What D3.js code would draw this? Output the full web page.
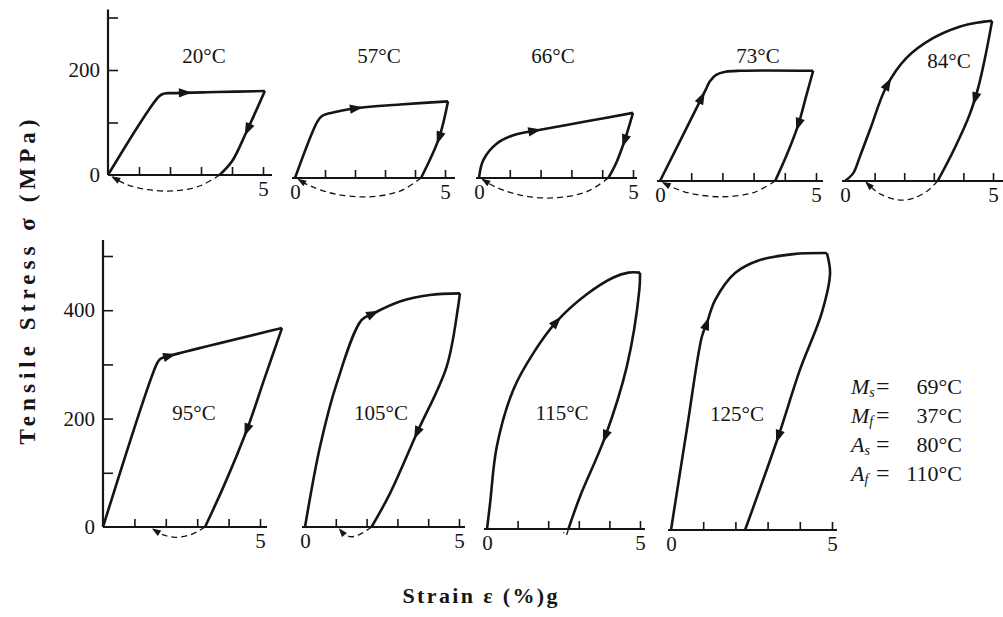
<!DOCTYPE html>
<html><head><meta charset="utf-8">
<script src="https://cdn.jsdelivr.net/npm/d3@7"></script>
<style>
body{margin:0;background:#fff}
svg{display:block;background:#fff}
svg text{font-family:"Liberation Serif","Times New Roman",serif}
</style>
</head><body>
<svg id="c" width="1003" height="617"></svg>
<script>
// ---------- DATA ----------
const tempsTop = ["20°C","57°C","66°C","73°C","84°C"];
const tempsBottom = ["95°C","105°C","115°C","125°C"];
const strainTicks = [0,1,2,3,4,5];
const strainTickLabels = [0,5];
const stressTicksTop = [0,100,200,300];
const stressTickLabelsTop = [0,200];
const stressTicksBottom = [0,100,200,300,400,500];
const stressTickLabelsBottom = [0,200,400];

// loading branches  [strain %, stress MPa]
const load20  = [[0,0],[1.65,150],[1.8,155],[2.1,156],[3.5,158],[5.06,160]];
const load57  = [[0,0],[0.75,108],[0.9,118],[1.2,124],[2.05,133],[3.5,140],[5.1,146]];
const load66  = [[0,0],[0.14,34],[0.59,66],[1.14,82],[1.81,90],[3.5,108],[5.0,124]];
const load73  = [[0,0],[1.45,172],[1.6,190],[1.8,202],[2.1,208],[2.6,210],[4.91,210]];
const load84  = [[0,0],[0.28,15],[0.5,46],[0.84,97],[1.4,180],[2.07,234],[2.97,272],[3.87,294],[4.5,302],[4.97,305]];
const load95  = [[0,0],[1.72,302],[1.82,310],[1.95,313],[5.7,367]];
const load105 = [[0,0],[0.49,149],[1.03,265],[1.84,382],[2.22,394],[3.08,416],[4.05,428],[5.03,431]];
const load115 = [[0,0],[0.1,47],[0.32,152],[0.86,257],[1.52,325],[2.28,383],[3.26,433],[4.13,464],[4.62,473],[5.0,473]];
const load125 = [[0,0],[0.49,185],[0.96,357],[1.11,381],[1.37,424],[1.99,474],[2.76,498],[3.8,509],[4.84,511]];

// unloading branches
const unload20  = [[5.06,160],[4.72,115],[4.45,80],[4.0,26],[3.6,0]];
const unload57  = [[5.1,146],[4.8,76],[4.2,0]];
const unload66  = [[5.0,124],[4.72,70],[4.45,28],[4.2,0]];
const unload73  = [[4.91,210],[4.7,165],[4.43,107],[4.05,48],[3.69,0]];
const unload84  = [[4.97,305],[4.75,240],[4.5,178],[4.2,125],[3.7,62],[3.13,0]];
const unload95  = [[5.7,367],[5.15,275],[4.58,179],[3.88,80],[3.25,0]];
const unload105 = [[5.03,431],[4.97,406],[4.6,296],[3.63,173],[2.76,62],[2.16,0]];
const unload115 = [[5.0,473],[4.98,442],[4.57,300],[3.86,170],[3.04,60],[2.66,0]];
const unload125 = [[4.84,511],[4.94,474],[4.68,400],[4.0,295],[3.33,172],[2.3,0]];

// shape recovery on heating (dashed, drawn below the strain axis)
const recover20  = [[3.6,0],[3.0,-20],[2.2,-30],[1.3,-28],[0.6,-18],[0.15,-4]];
const recover57  = [[4.2,0],[3.5,-25],[2.4,-36],[1.3,-30],[0.5,-15],[0.12,-3]];
const recover66  = [[4.2,0],[3.5,-26],[2.4,-38],[1.3,-32],[0.5,-16],[0.12,-3]];
const recover73  = [[3.69,0],[3.0,-22],[2.0,-30],[1.0,-24],[0.4,-12],[0.1,-3]];
const recover84  = [[3.13,0],[2.8,-18],[2.3,-33],[1.8,-36],[1.2,-25],[0.85,-10],[0.72,-3]];
const recover95  = [[3.25,0],[2.8,-14],[2.3,-19],[1.9,-14],[1.6,-4]];
const recover105 = [[2.16,0],[1.8,-13],[1.5,-18],[1.25,-12],[1.13,-4]];
const recover115 = [[2.66,0],[2.58,-12],[2.5,-6]];
const recover125 = [];

// strain at which the direction arrows sit
const arrowLoadTop = [2.5,2.05,1.81,1.34,1.45];
const arrowUnloadTop = [4.5,4.8,4.72,4.43,4.39];
const arrowLoadBottom = [2.13,2.22,2.28,1.11];
const arrowUnloadBottom = [4.58,3.63,3.86,3.33];

const legendSymbols = ["M","M","A","A"];
const legendSubs = ["s","f","s","f"];
const legendValues = ["69°C","37°C","80°C","110°C"];

// ---------- LAYOUT ----------
const INK = "#151515";
const topLayout = {
  x0:[108,295,479,660,845], x5:[263,445,633,816,993], base:[175,178,178,181,181],
  ymax:300, h:157.5, ext:[9,10,4,7,12],
  lab:[[204,63],[379,63],[553,63],[758,63],[949,68]]
};
const botLayout = {
  x0:[103,305,487,671], x5:[260,459,640,832], base:[527,527,529,530],
  ymax:500, h:271, ext:[7,6,5,5],
  lab:[[194,420],[381,420],[562,420],[737,421]]
};

const svg = d3.select("#c");

function addArrow(g, pathNode, targetX, size, atLen){
  const L = pathNode.getTotalLength();
  let best=0, bd=1e9;
  if(atLen!==undefined){ best=atLen; }
  else {
    for(let l=0;l<=L;l+=0.5){
      const p=pathNode.getPointAtLength(l);
      const d=Math.abs(p.x-targetX);
      if(d<bd){bd=d;best=l;}
    }
  }
  const a=pathNode.getPointAtLength(Math.max(0,best-2));
  const b=pathNode.getPointAtLength(Math.min(L,best+2));
  const p=pathNode.getPointAtLength(best);
  let dx=b.x-a.x, dy=b.y-a.y; const n=Math.hypot(dx,dy)||1; dx/=n; dy/=n;
  const len=size, w=size*0.36;
  const tip=[p.x+dx*len*0.5,p.y+dy*len*0.5];
  const bl=[p.x-dx*len*0.5-dy*w,p.y-dy*len*0.5+dx*w];
  const br=[p.x-dx*len*0.5+dy*w,p.y-dy*len*0.5-dx*w];
  g.append("path").attr("d",`M${tip}L${bl}L${br}Z`).attr("fill",INK);
}

function styleText(sel,size){
  sel.style("font-family",'"Liberation Serif","Times New Roman",serif').style("font-size",size+"px").attr("fill",INK);
}

function drawPanel(i, L, temps, loads, unloads, recovers, aLoad, aUnload, isTop){
  const x = d3.scaleLinear().domain([0,5]).range([L.x0[i],L.x5[i]]);
  const y = d3.scaleLinear().domain([0,L.ymax]).range([L.base[i],L.base[i]-L.h]);
  const g = svg.append("g");
  // strain axis
  g.append("line").attr("x1",x(0)-(i===0?0:3)).attr("x2",x(5)+L.ext[i])
    .attr("y1",y(0)).attr("y2",y(0)).attr("stroke",INK).attr("stroke-width",2.2);
  const showZero = i!==0;
  const ax = d3.axisBottom(x).tickValues(strainTicks).tickSizeInner(-8).tickSizeOuter(0).tickPadding(6)
    .tickFormat(d => strainTickLabels.includes(d) && (d!==0 || showZero) ? String(d) : "");
  const axg = g.append("g").attr("transform",`translate(0,${y(0)})`).call(ax);
  axg.attr("font-family",null).attr("font-size",null);
  axg.select(".domain").remove();
  axg.selectAll(".tick line").attr("stroke",INK).attr("stroke-width",1.6);
  axg.selectAll(".tick").filter(d=>d===0).select("line").remove();
  styleText(axg.selectAll(".tick text"),21);

  // stress axis only on first panel of each row
  if(i===0){
    const ticks = isTop?stressTicksTop:stressTicksBottom;
    const labs = isTop?stressTickLabelsTop:stressTickLabelsBottom;
    g.append("line").attr("x1",x(0)).attr("x2",x(0)).attr("y1",y(0)).attr("y2",y(L.ymax)-(isTop?8:16))
      .attr("stroke",INK).attr("stroke-width",2.2);
    const ay = d3.axisLeft(y).tickValues(ticks).tickSizeInner(-10).tickSizeOuter(0).tickPadding(8)
      .tickFormat(d => labs.includes(d)?String(d):"");
    const ayg = g.append("g").attr("transform",`translate(${x(0)},0)`).call(ay);
    ayg.attr("font-family",null).attr("font-size",null);
    ayg.select(".domain").remove();
    ayg.selectAll(".tick line").attr("stroke",INK).attr("stroke-width",1.6);
    ayg.selectAll(".tick").filter(d=>d===0).select("line").remove();
    styleText(ayg.selectAll(".tick text"),21);
  }

  const line = d3.line().x(d=>x(d[0])).y(d=>y(d[1])).curve(d3.curveCatmullRom.alpha(0.5));
  const pl = g.append("path").attr("d",line(loads[i])).attr("fill","none").attr("stroke",INK)
    .attr("stroke-width",2.6).attr("stroke-linejoin","round");
  const pu = g.append("path").attr("d",line(unloads[i])).attr("fill","none").attr("stroke",INK)
    .attr("stroke-width",2.6).attr("stroke-linejoin","round");
  addArrow(g, pl.node(), x(aLoad[i]), 13);
  addArrow(g, pu.node(), x(aUnload[i]), 13);
  if(recovers[i].length){
    const pr = g.append("path").attr("d",line(recovers[i])).attr("fill","none").attr("stroke",INK)
      .attr("stroke-width",1.3).attr("stroke-dasharray","6,4");
    if(recovers[i].length>3){
      const Lr = pr.node().getTotalLength();
      addArrow(g, pr.node(), 0, 9, Lr-3);
    }
  }
  const t = svg.append("text").attr("x",L.lab[i][0]).attr("y",L.lab[i][1]).attr("text-anchor","middle").text(temps[i]);
  styleText(t,21);
}

const loadsTop=[load20,load57,load66,load73,load84];
const unloadsTop=[unload20,unload57,unload66,unload73,unload84];
const recTop=[recover20,recover57,recover66,recover73,recover84];
const loadsBot=[load95,load105,load115,load125];
const unloadsBot=[unload95,unload105,unload115,unload125];
const recBot=[recover95,recover105,recover115,recover125];

tempsTop.forEach((t,i)=>drawPanel(i,topLayout,tempsTop,loadsTop,unloadsTop,recTop,arrowLoadTop,arrowUnloadTop,true));
tempsBottom.forEach((t,i)=>drawPanel(i,botLayout,tempsBottom,loadsBot,unloadsBot,recBot,arrowLoadBottom,arrowUnloadBottom,false));

// axis titles
const yt = svg.append("text").attr("transform","translate(35,282) rotate(-90)").attr("text-anchor","middle")
  .attr("font-weight","bold").attr("textLength",325).attr("lengthAdjust","spacing").text("Tensile Stress σ (MPa)");
styleText(yt,23);
const xt = svg.append("text").attr("x",480).attr("y",603).attr("text-anchor","middle")
  .attr("font-weight","bold").attr("textLength",155).attr("lengthAdjust","spacing").text("Strain ε (%)g");
styleText(xt,22);

// legend
const legY=[394,423,452,481];
legendSymbols.forEach((s,i)=>{
  const t=svg.append("text").attr("x",851).attr("y",legY[i]);
  styleText(t,22);
  t.append("tspan").attr("font-style","italic").text(s);
  t.append("tspan").attr("font-style","italic").style("font-size","14px").attr("dy",3).text(legendSubs[i]);
  const e=svg.append("text").attr("x",876).attr("y",legY[i]).text("=");
  styleText(e,24);
  const v=svg.append("text").attr("x",962).attr("y",legY[i]).attr("text-anchor","end").text(legendValues[i]);
  styleText(v,22);
});
</script>
</body></html>
